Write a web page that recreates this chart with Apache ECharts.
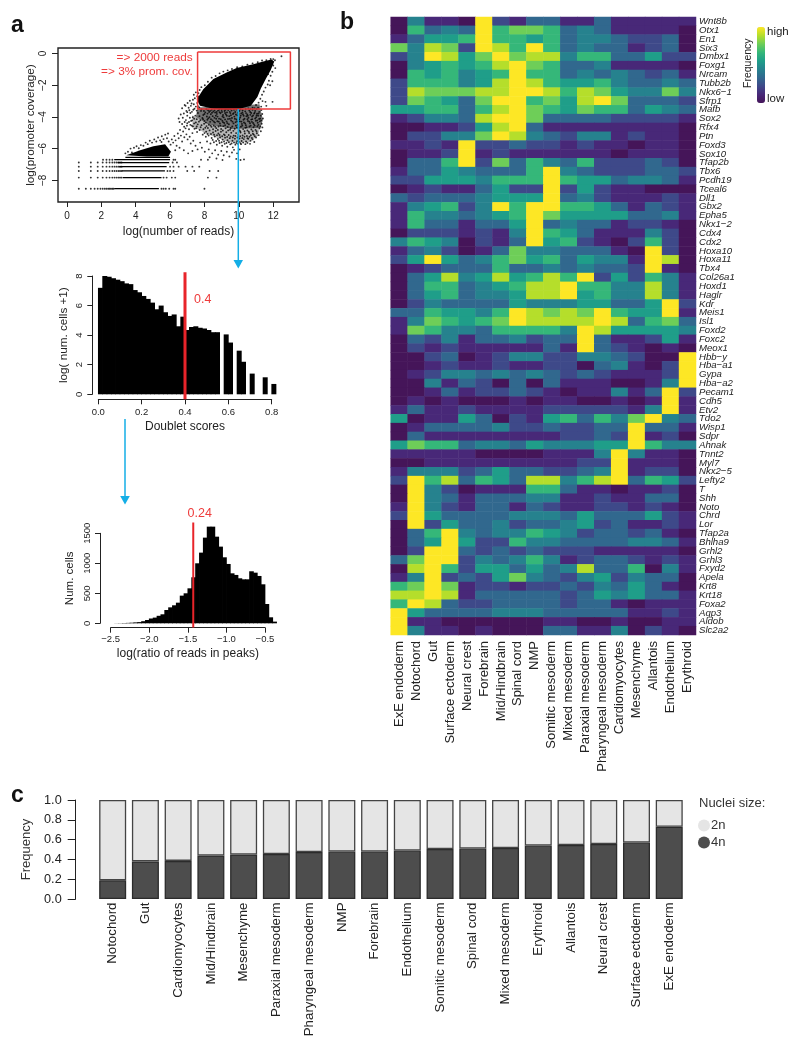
<!DOCTYPE html>
<html><head><meta charset="utf-8">
<style>html,body{margin:0;padding:0;background:#fff}#c{width:800px;height:1050px}</style>
<script src="https://cdn.jsdelivr.net/npm/echarts@6/dist/echarts.min.js"></script>
</head><body><div id="c"></div>
<script>
const FONT='"Liberation Sans",Arial,sans-serif';
// ---------- panel a : scatter ----------
const denseBlob=[[7.55,-2.9],[7.93,-2.26],[8.52,-1.6],[9.29,-1.2],[9.87,-0.92],[10.84,-0.68],[11.42,-0.5],[11.9,-0.38],[12.06,-0.5],[11.85,-1.05],[11.58,-1.58],[11.28,-2.2],[11.08,-2.74],[10.7,-3.3],[10.06,-3.48],[9.29,-3.55],[8.52,-3.48],[7.74,-3.3]];
const midCloud=[[7.6,-3.4],[11.2,-3.2],[11.4,-4.2],[11.25,-4.7],[9.6,-4.75],[8.2,-4.45],[7.5,-4.0]];
const lowCloud=[[7.3,-3.9],[8.2,-4.4],[9.6,-4.7],[11.25,-4.65],[11.1,-5.2],[10.6,-5.6],[9.4,-5.6],[8.2,-5.1],[7.3,-4.6]];
const denseTail=[[3.45,-6.42],[4.26,-6.1],[5.03,-5.85],[5.71,-5.72],[6.05,-6.2],[5.9,-6.5],[4.65,-6.5]];
const rowSegments=[[-8.53,2.75,5.35],[-7.83,3.25,5.5],[-7.41,3.2,5.7],[-7.14,3.05,5.8],[-6.88,2.95,5.95],[-6.7,2.75,6.0],[-6.55,3.4,6.0]];
const rowDotsLow=[0.69,1.1,1.39,1.61,1.79,1.95,2.08,2.2,2.3,2.4,2.48,2.56,2.64,2.71];
const rowDotsMid=[0.69,1.39,1.79,2.08,2.3,2.48,2.64,2.77,2.89,3.0,3.09,3.18];
const rowY=[-7.83,-7.41,-7.14,-6.88];
const sparseRight=[[5.5,-8.53],[5.62,-8.53],[5.75,-8.53],[5.95,-8.53],[6.2,-8.53],[6.3,-8.53],[8.0,-8.53],[5.62,-7.83],[5.8,-7.83],[6.1,-7.83],[6.3,-7.83],[8.2,-7.83],[8.7,-7.83],[5.85,-7.41],[6.0,-7.41],[6.2,-7.41],[7.0,-7.41],[7.4,-7.41],[8.3,-7.41],[8.8,-7.41],[6.0,-7.14],[6.2,-7.14],[6.5,-7.14],[6.9,-7.14],[7.3,-7.14],[7.7,-7.14],[6.15,-6.88],[6.4,-6.88],[6.2,-6.7],[6.3,-6.7],[7.8,-6.7],[8.2,-6.7],[2.1,-6.7],[2.3,-6.7],[2.48,-6.7],[2.64,-6.7]];
const sparseCloud=[
[7.8,-3.62],[8.05,-3.71],[8.21,-3.58],[8.37,-3.83],[8.52,-3.66],[8.66,-3.92],[8.79,-3.6],[8.93,-3.77],[9.08,-3.88],[9.17,-3.63],[9.31,-3.71],[9.44,-3.95],[9.58,-3.6],[9.66,-3.82],[9.79,-3.69],[9.91,-3.9],[10.03,-3.62],[10.14,-3.78],[10.28,-3.93],[10.37,-3.65],[10.49,-3.84],[10.61,-3.59],[10.72,-3.75],[10.83,-3.91],[10.95,-3.62],[11.06,-3.8],[11.19,-3.68],[11.31,-3.57],
[7.62,-3.75],[7.71,-3.95],[7.93,-3.88],[8.14,-3.97],[8.29,-4.02],[8.44,-3.74],[8.58,-4.06],[8.72,-3.81],[8.85,-4.11],[9.02,-3.69],[9.12,-4.03],[9.25,-3.84],[9.37,-4.13],[9.51,-3.76],[9.6,-4.07],[9.74,-3.98],[9.86,-4.16],[9.98,-3.82],[10.08,-4.04],[10.21,-3.71],[10.33,-4.12],[10.44,-3.96],[10.56,-4.05],[10.67,-3.87],[10.78,-4.14],[10.89,-3.79],[11.01,-4.02],[11.12,-3.93],[11.24,-4.1],[11.36,-3.82],
[7.35,-3.55],[7.47,-3.92],[7.55,-4.14],[7.76,-4.21],[7.88,-4.07],[8.0,-4.25],[8.17,-4.18],[8.33,-4.31],[8.47,-4.22],[8.61,-4.36],[8.75,-4.27],[8.9,-4.42],[9.04,-4.24],[9.15,-4.38],[9.29,-4.29],[9.42,-4.46],[9.55,-4.23],[9.69,-4.41],[9.81,-4.33],[9.94,-4.5],[10.06,-4.28],[10.18,-4.44],[10.3,-4.35],[10.41,-4.52],[10.53,-4.26],[10.65,-4.4],[10.76,-4.31],[10.88,-4.47],[10.99,-4.24],[11.1,-4.37],[11.22,-4.28],[11.33,-4.43],
[7.22,-4.25],[7.4,-4.41],[7.61,-4.47],[7.83,-4.52],[7.98,-4.43],[8.12,-4.58],[8.26,-4.49],[8.41,-4.63],[8.54,-4.55],[8.69,-4.71],[8.82,-4.6],[8.97,-4.76],[9.1,-4.58],[9.23,-4.72],[9.35,-4.63],[9.49,-4.81],[9.62,-4.6],[9.76,-4.75],[9.89,-4.66],[10.01,-4.84],[10.12,-4.62],[10.25,-4.77],[10.38,-4.68],[10.5,-4.86],[10.62,-4.6],[10.73,-4.79],[10.85,-4.65],[10.97,-4.82],[11.08,-4.59],[11.2,-4.72],[11.28,-4.9],
[7.51,-4.72],[7.72,-4.83],[7.94,-4.78],[8.1,-4.93],[8.3,-4.85],[8.5,-4.98],[8.65,-4.89],[8.81,-5.05],[8.96,-4.94],[9.13,-5.1],[9.27,-4.97],[9.41,-5.14],[9.56,-5.0],[9.7,-5.18],[9.84,-5.02],[9.97,-5.12],[10.1,-4.98],[10.22,-5.17],[10.35,-5.05],[10.47,-5.2],[10.6,-5.02],[10.7,-5.16],[10.82,-5.06],[10.93,-5.22],[11.05,-5.03],[11.15,-5.15],
[7.9,-5.12],[8.08,-5.25],[8.24,-5.18],[8.42,-5.33],[8.6,-5.24],[8.78,-5.39],[8.91,-5.28],[9.06,-5.43],[9.2,-5.31],[9.34,-5.47],[9.47,-5.34],[9.63,-5.5],[9.77,-5.37],[9.9,-5.54],[10.04,-5.36],[10.16,-5.52],[10.29,-5.4],[10.42,-5.55],[10.55,-5.38],[10.68,-5.51],[10.8,-5.42],[10.9,-5.58],
[7.75,-5.62],[8.15,-5.55],[8.35,-5.68],[8.55,-5.6],[8.72,-5.76],[8.88,-5.65],[9.03,-5.82],[9.18,-5.7],[9.33,-5.88],[9.5,-5.73],[9.65,-5.92],[9.8,-5.75],[9.95,-5.7],[10.1,-5.66],
[7.6,-6.05],[7.85,-5.95],[8.02,-6.2],[8.25,-6.05],[8.45,-6.3],[8.62,-6.1],[8.8,-6.38],[8.98,-6.15],[9.12,-6.42],[9.3,-6.2],[9.45,-6.5],[9.6,-6.25],[9.72,-6.08],[9.9,-6.3],[10.05,-6.05],[8.3,-6.55],[8.7,-6.62],[9.05,-6.72],[9.85,-6.65],[10.1,-6.72],[10.3,-6.68],
[6.7,-3.45],[6.85,-3.25],[6.95,-3.62],[7.02,-3.12],[7.08,-3.42],[7.15,-2.98],[7.21,-3.3],[7.27,-3.68],[7.33,-2.92],[7.38,-3.2],[7.44,-2.82],[7.5,-3.35],[7.58,-3.12],[7.64,-2.72],[7.7,-3.4],[6.62,-3.85],[6.74,-4.05],[6.8,-3.78],[6.92,-4.2],[7.0,-3.92],[7.1,-4.32],[7.18,-3.75],[7.26,-4.55],[7.32,-4.02],[7.42,-4.75],[7.57,-4.95],[7.3,-5.02],[7.1,-4.78],[6.98,-4.55],[6.7,-4.45],[6.55,-4.32],[6.5,-4.1],
[5.92,-5.55],[6.03,-5.75],[6.1,-5.42],[6.18,-5.62],[6.25,-5.2],[6.32,-5.48],[6.38,-5.82],[6.45,-5.05],[6.5,-5.35],[6.58,-4.82],[6.63,-5.18],[6.7,-5.55],[6.76,-4.92],[6.83,-5.28],[6.9,-4.72],[6.95,-5.1],[7.02,-5.42],[7.14,-5.25],[7.2,-5.68],[7.35,-5.5],[7.48,-5.82],[6.55,-5.95],[6.8,-6.1],[6.3,-6.1],[7.05,-6.3],[7.3,-6.15],
[3.55,-6.2],[3.7,-6.0],[3.78,-6.25],[3.9,-5.95],[4.05,-5.85],[4.18,-5.98],[4.3,-5.78],[4.45,-5.82],[4.58,-5.62],[4.7,-5.72],[4.82,-5.5],[4.95,-5.62],[5.08,-5.42],[5.2,-5.55],[5.3,-5.3],[5.42,-5.48],[5.52,-5.22],[5.62,-5.4],[5.72,-5.12],[5.82,-5.35],[5.5,-5.58],[5.88,-5.05],[3.4,-6.3],
[7.65,-2.5],[7.82,-2.12],[8.02,-2.0],[8.2,-1.78],[8.42,-1.52],[8.65,-1.42],[8.88,-1.25],[9.1,-1.14],[9.35,-1.06],[9.6,-0.98],[9.9,-0.86],[10.2,-0.82],[10.5,-0.7],[10.8,-0.62],[11.1,-0.55],[11.35,-0.44],[11.6,-0.42],[11.85,-0.34],[12.0,-0.35],[12.1,-0.42],[12.48,-0.17],
[12.0,-0.75],[12.12,-0.92],[11.95,-1.15],[11.85,-1.4],[11.75,-1.72],[11.68,-1.95],[11.55,-2.15],[11.45,-2.4],[11.35,-2.6],[11.25,-2.85],[11.15,-3.1],[11.0,-3.25],[11.96,-3.05],[11.55,-3.05],[11.38,-3.0],[11.7,-1.3],[11.95,-1.75],[11.82,-2.0],[11.3,-3.35],[10.8,-3.42],[11.6,-3.3]
];
const sparseCloud2=[
[7.83,-3.52],[7.97,-3.63],[8.11,-3.52],[8.27,-3.69],[8.42,-3.55],[8.59,-3.57],[8.71,-3.69],[8.86,-3.54],[9.0,-3.56],[9.22,-3.55],[9.38,-3.57],[9.52,-3.51],[9.72,-3.55],[9.85,-3.53],[9.97,-3.5],[10.1,-3.52],[10.22,-3.58],[10.4,-3.5],[10.55,-3.47],[10.68,-3.5],[10.8,-3.55],[10.91,-3.45],[11.03,-3.5],[11.12,-3.42],
[8.0,-3.82],[8.18,-3.79],[8.33,-3.62],[8.48,-3.95],[8.62,-3.72],[8.76,-3.98],[8.88,-3.7],[9.05,-3.97],[9.2,-3.75],[9.3,-3.93],[9.47,-3.68],[9.54,-3.89],[9.7,-3.76],[9.83,-3.85],[9.95,-3.74],[10.11,-3.92],[10.24,-3.83],[10.42,-3.76],[10.52,-3.93],[10.66,-3.69],[10.77,-3.97],[10.92,-3.73],[11.03,-3.9],[11.15,-3.78],[11.27,-3.92],
[7.68,-4.3],[7.92,-4.15],[8.08,-4.36],[8.22,-4.09],[8.38,-4.15],[8.55,-4.3],[8.68,-4.12],[8.83,-4.3],[8.95,-4.15],[9.08,-4.33],[9.2,-4.16],[9.33,-4.4],[9.48,-4.12],[9.63,-4.3],[9.77,-4.12],[9.9,-4.28],[10.02,-4.15],[10.15,-4.3],[10.27,-4.18],[10.37,-4.42],[10.5,-4.14],[10.61,-4.3],[10.72,-4.17],[10.83,-4.38],[10.95,-4.1],[11.07,-4.22],[11.18,-4.13],[11.3,-4.22],[11.4,-4.1],
[7.55,-4.6],[7.78,-4.65],[8.05,-4.68],[8.2,-4.7],[8.36,-4.55],[8.5,-4.78],[8.63,-4.62],[8.78,-4.82],[8.93,-4.55],[9.07,-4.86],[9.2,-4.52],[9.38,-4.85],[9.53,-4.7],[9.68,-4.88],[9.83,-4.55],[9.98,-4.7],[10.08,-4.9],[10.2,-4.55],[10.33,-4.9],[10.45,-4.65],[10.58,-4.93],[10.69,-4.55],[10.81,-4.9],[10.92,-4.55],[11.03,-4.9],[11.14,-4.5],[11.25,-4.6],[11.37,-4.66],
[8.0,-5.02],[8.18,-5.08],[8.38,-5.08],[8.56,-5.12],[8.73,-5.15],[8.88,-5.14],[9.03,-5.22],[9.18,-5.16],[9.32,-5.26],[9.52,-5.24],[9.65,-5.3],[9.8,-5.2],[9.92,-5.3],[10.08,-5.22],[10.2,-5.33],[10.33,-5.25],[10.5,-5.35],[10.62,-5.25],[10.76,-5.33],[10.87,-5.12],[11.0,-5.3],
[8.48,-5.45],[8.68,-5.52],[8.85,-5.5],[9.0,-5.6],[9.14,-5.55],[9.28,-5.65],[9.42,-5.6],[9.58,-5.68],[9.72,-5.62],[9.85,-5.65],[10.0,-5.58],[10.13,-5.72],[10.25,-5.62],[10.38,-5.72],[10.5,-5.64],[10.65,-5.7],
[6.9,-3.3],[7.0,-3.7],[7.12,-3.58],[7.25,-3.15],[7.42,-3.48],[7.55,-3.6],[7.15,-4.05],[7.28,-4.22],[7.4,-4.12],[7.5,-4.35],[6.85,-4.32],[7.0,-4.4],[7.18,-4.5],[7.33,-4.6],[6.82,-4.62],[7.62,-3.32],[7.38,-2.6],[7.5,-2.45],[7.72,-2.3],[7.58,-2.7]
];
// ---------- panel a : doublet histogram ----------
const doubletEdges=[0,0.02,0.04,0.06,0.08,0.1,0.12,0.14,0.16,0.18,0.2,0.22,0.24,0.26,0.28,0.3,0.32,0.34,0.36,0.38,0.4,0.42,0.44,0.46,0.48,0.5,0.52,0.54,0.56,0.58,0.6,0.62,0.64,0.66,0.68,0.7,0.72,0.74,0.76,0.78,0.8];
const doubletVals=[7.2,8,7.95,7.85,7.75,7.65,7.5,7.45,7.05,6.9,6.65,6.45,6.2,5.75,6,5.55,5.3,5.4,4.6,5.25,4.35,4.55,4.6,4.5,4.45,4.35,4.2,4.2,0,4.05,3.5,0,2.95,2.2,0,1.4,0,0,1.15,0,0.7];
// ---------- panel a : FRiP histogram ----------
const ratioEdges=[-2.45,-2.4,-2.35,-2.3,-2.25,-2.2,-2.15,-2.1,-2.05,-2,-1.95,-1.9,-1.85,-1.8,-1.75,-1.7,-1.65,-1.6,-1.55,-1.5,-1.45,-1.4,-1.35,-1.3,-1.25,-1.2,-1.15,-1.1,-1.05,-1,-0.95,-0.9,-0.85,-0.8,-0.75,-0.7,-0.65,-0.6,-0.55,-0.5,-0.45,-0.4];
const ratioVals=[2,3,5,7,10,15,20,35,55,80,95,125,150,222,266,300,344,461,500,583,767,1000,1178,1428,1611,1611,1444,1278,1100,989,833,806,750,733,733,867,844,789,650,322,100,28];
// ---------- panel b : heatmap ----------
const cellTypes=['ExE endoderm','Notochord','Gut','Surface ectoderm','Neural crest','Forebrain','Mid/Hindbrain','Spinal cord','NMP','Somitic mesoderm','Mixed mesoderm','Paraxial mesoderm','Pharyngeal mesoderm','Cardiomyocytes','Mesenchyme','Allantois','Endothelium','Erythroid'];
const genes=['Wnt8b','Otx1','En1','Six3','Dmbx1','Foxg1','Nrcam','Tubb2b','Nkx6−1','Sfrp1','Mafb','Sox2','Rfx4','Ptn','Foxd3','Sox10','Tfap2b','Tbx6','Pcdh19','Tceal6','Dll1','Gbx2','Epha5','Nkx1−2','Cdx4','Cdx2','Hoxa10','Hoxa11','Tbx4','Col26a1','Hoxd1','Haglr','Kdr','Meis1','Isl1','Foxd2','Foxc2','Meox1','Hbb−y','Hba−a1','Gypa','Hba−a2','Pecam1','Cdh5','Etv2','Tdo2','Wisp1','Sdpr','Ahnak','Tnnt2','Myl7','Nkx2−5','Lefty2','T','Shh','Noto','Chrd','Lor','Tfap2a','Bhlha9','Grhl2','Grhl3','Fxyd2','Apela','Krt8','Krt18','Foxa2','Aqp3','Aldob','Slc2a2'];
const heatRows=[
[0,4,1,1,0,9,2,1,3,3,1,1,3,1,1,1,1,1],
[0,6,3,4,3,9,6,7,7,6,3,4,3,1,1,1,1,0],
[1,3,5,5,6,9,6,6,5,6,3,4,4,3,2,2,3,0],
[7,4,8,7,2,9,8,6,9,6,3,4,3,3,1,2,3,0],
[2,4,9,8,5,7,9,7,8,8,4,6,6,3,3,5,2,2],
[0,4,5,6,5,6,8,9,7,6,3,3,4,1,1,1,1,0],
[0,6,5,6,4,5,6,9,6,6,3,4,3,4,3,2,3,1],
[2,6,6,6,4,5,8,9,8,6,5,5,6,4,3,3,4,3],
[2,8,7,7,7,8,8,9,9,8,6,8,7,5,4,4,7,4],
[2,7,6,5,3,7,9,9,6,7,5,8,9,7,3,3,3,2],
[5,5,6,6,3,6,8,9,7,6,5,7,6,6,3,5,4,3],
[1,2,4,4,3,8,9,9,7,3,3,3,3,2,2,2,2,1],
[0,0,1,1,2,5,8,9,3,1,1,1,1,1,1,1,1,0],
[0,2,2,4,4,7,9,8,4,3,2,4,4,1,2,1,1,0],
[1,1,2,1,9,2,2,3,2,2,1,2,1,1,0,1,1,0],
[0,1,1,2,9,1,2,1,1,1,1,1,1,0,1,1,1,0],
[0,3,3,6,9,2,7,3,6,4,3,6,2,2,2,3,2,0],
[1,3,3,5,4,3,3,3,6,9,4,3,2,2,2,3,3,2],
[2,2,5,5,5,4,6,6,6,9,6,5,5,3,4,4,3,1],
[0,1,2,1,1,3,5,2,2,9,2,5,2,1,1,0,0,0],
[3,2,3,3,3,4,5,5,5,9,3,4,2,1,1,1,2,1],
[1,4,5,6,2,4,9,6,9,9,6,6,5,3,1,3,2,1],
[1,6,4,4,3,4,5,6,9,7,5,5,5,5,3,3,4,1],
[1,6,3,3,1,3,3,5,9,3,4,3,3,1,2,2,1,0],
[0,2,2,2,1,2,1,4,9,6,5,3,1,1,1,4,2,0],
[4,6,5,4,0,2,1,3,9,5,6,2,1,0,2,6,2,0],
[1,3,4,2,0,1,3,7,4,4,3,3,3,1,0,9,2,0],
[2,5,9,5,3,4,6,7,5,6,3,5,4,4,1,9,8,0],
[0,1,2,3,3,3,6,3,3,4,3,4,3,3,2,9,1,0],
[0,3,5,8,4,5,8,5,6,8,6,9,2,5,2,6,4,1],
[0,3,6,6,3,4,5,6,8,8,9,6,6,4,4,8,4,1],
[0,3,5,6,3,4,4,5,8,8,9,5,6,4,4,8,4,1],
[0,2,4,3,3,3,3,5,4,4,4,5,5,3,3,5,9,2],
[3,3,6,5,5,4,6,9,8,7,8,7,9,6,5,5,9,1],
[1,4,7,6,5,6,7,9,8,8,8,8,9,8,3,6,7,3],
[1,7,6,4,4,3,6,6,6,6,4,9,8,5,5,5,5,4],
[0,3,2,4,1,3,3,4,2,3,3,9,3,1,1,2,5,1],
[0,2,1,2,1,1,1,1,1,3,1,9,3,2,1,0,1,0],
[0,0,2,3,0,1,2,4,4,2,2,4,4,3,2,0,0,9],
[0,0,1,2,1,1,2,1,1,2,2,0,3,4,1,0,2,9],
[0,1,2,4,4,3,4,3,4,3,2,3,2,1,1,1,2,9],
[0,0,4,1,3,2,0,3,0,3,1,1,1,0,0,1,4,9],
[0,0,1,3,1,2,2,3,2,1,0,1,1,4,1,3,9,2],
[0,1,0,1,0,0,0,1,0,1,1,0,0,1,0,1,9,1],
[1,3,1,1,2,1,1,1,1,2,2,2,2,2,1,4,9,1],
[5,0,1,1,5,3,0,2,1,5,6,3,6,4,7,9,4,3],
[0,1,3,3,3,3,4,2,2,3,2,2,3,3,9,3,3,1],
[0,3,1,1,1,1,1,1,1,1,2,2,3,2,9,1,2,0],
[5,7,6,6,3,4,4,3,5,4,4,4,5,5,9,6,4,4],
[1,1,1,1,1,0,0,0,0,1,1,1,4,9,4,1,1,0],
[0,0,1,1,1,1,1,1,1,1,1,2,2,9,1,1,1,0],
[1,4,4,4,2,3,5,3,3,2,2,3,4,9,1,2,2,0],
[2,9,6,8,3,6,5,3,8,8,4,6,8,9,3,6,5,2],
[0,9,4,2,0,1,1,1,6,6,3,1,1,0,1,1,2,0],
[0,9,4,3,1,3,3,3,4,4,1,1,2,1,1,3,3,0],
[1,9,4,2,1,3,3,1,3,2,1,1,2,2,1,2,1,0],
[2,9,5,3,3,3,3,4,4,4,3,5,3,3,3,5,2,1],
[0,9,2,5,3,3,4,2,3,3,4,5,2,3,1,1,2,1],
[0,3,6,9,4,3,4,4,6,5,4,2,3,3,2,3,1,0],
[0,3,5,9,5,2,2,6,4,4,3,3,3,3,4,4,3,1],
[0,2,9,9,3,2,3,2,3,2,2,2,1,1,1,1,1,0],
[3,7,9,9,2,4,3,4,6,4,1,2,3,3,2,1,2,1],
[0,8,9,6,2,5,5,3,5,3,4,8,3,3,6,0,4,1],
[1,4,9,2,3,2,5,7,4,3,2,4,5,2,4,3,3,0],
[6,7,9,7,1,2,2,1,2,2,3,2,4,3,5,3,1,0],
[8,8,9,8,1,3,3,3,3,3,2,3,5,4,5,3,3,1],
[6,9,8,3,2,2,3,3,3,3,2,3,3,1,0,1,1,1],
[9,5,3,3,3,3,4,4,4,3,3,3,3,3,1,1,2,1],
[9,1,1,0,0,0,0,0,0,1,1,0,0,1,0,0,1,1],
[9,4,1,1,0,1,0,0,0,3,3,1,1,4,0,2,1,0]
];
// ---------- panel c : nuclei size ----------
const nucleiTypes=['Notochord','Gut','Cardiomyocytes','Mid/Hindbrain','Mesenchyme','Paraxial mesoderm','Pharyngeal mesoderm','NMP','Forebrain','Endothelium','Somitic mesoderm','Spinal cord','Mixed mesoderm','Erythroid','Allantois','Neural crest','Surface ectoderm','ExE endoderm'];
const freq4n=[0.19,0.38,0.385,0.44,0.45,0.455,0.475,0.48,0.48,0.49,0.505,0.51,0.515,0.54,0.545,0.555,0.57,0.73];
const freq2n=freq4n.map(v=>+(1-v).toFixed(3));

const ink='#222';
const minus=v=>String(v).replace('-','−');
const rAxis=(o)=>Object.assign({type:'value',splitLine:{show:false},
  axisLine:{show:true,onZero:false,lineStyle:{color:ink,width:1}},
  axisTick:{show:true,length:5,lineStyle:{color:ink,width:1}},
  axisLabel:{color:ink,fontSize:9.5,fontFamily:FONT},
  nameLocation:'middle',nameTextStyle:{color:ink,fontSize:12,fontFamily:FONT}},o);
const tickLab=(o)=>Object.assign({color:ink,fontSize:9.5,fontFamily:FONT},o);
const redLine=(xi,yi,data,w)=>({type:'line',xAxisIndex:xi,yAxisIndex:yi,data,symbol:'none',clip:false,silent:true,z:5,lineStyle:{color:'#e8242a',width:w}});
const blue='#14aee6';
const txt=(x,y,text,o)=>({type:'text',x,y,silent:true,z:20,style:Object.assign({text,fill:ink,fontFamily:FONT,fontSize:12},o||{})});

const polys=[lowCloud,midCloud,denseBlob,denseTail];
const polyFills=['rgba(0,0,0,0.28)','rgba(0,0,0,0.55)','#000','#000'];
const chart=echarts.init(document.getElementById('c'),null,{renderer:'canvas'});
chart.setOption({
 animation:false,backgroundColor:'#fff',textStyle:{fontFamily:FONT},
 grid:[
  {left:58,top:48,width:241,height:154,show:true,borderColor:ink,borderWidth:1.4,containLabel:false},
  {left:98.3,top:276,width:173.4,height:118.3},
  {left:110.7,top:533.3,width:154.3,height:90},
  {left:390.7,top:17,width:305.3,height:618},
  {left:96.3,top:800,width:589.3,height:99}
 ],
 xAxis:[
  rAxis({gridIndex:0,min:-0.52,max:13.5,name:'log(number of reads)',nameGap:24,axisLine:{show:false,onZero:false},
    axisTick:{show:true,length:5,customValues:[0,2,4,6,8,10,12],lineStyle:{color:ink}},
    axisLabel:tickLab({fontSize:10,margin:9,customValues:[0,2,4,6,8,10,12]})}),
  rAxis({gridIndex:1,min:0,max:0.8,interval:0.2,offset:5,name:'Doublet scores',nameGap:21,
    axisLabel:tickLab({margin:8,formatter:v=>v.toFixed(1)})}),
  rAxis({gridIndex:2,min:-2.5,max:-0.5,interval:0.5,offset:4.4,name:'log(ratio of reads in peaks)',nameGap:20,
    axisLabel:tickLab({margin:6.5,showMinLabel:true,showMaxLabel:true,formatter:v=>minus(v.toFixed(1))})}),
  {type:'category',gridIndex:3,data:cellTypes,axisLine:{show:false},axisTick:{show:false},splitLine:{show:false},
    axisLabel:{interval:0,rotate:90,color:ink,fontSize:13,margin:6,fontFamily:FONT}},
  {type:'category',gridIndex:4,data:nucleiTypes,axisLine:{show:false},axisTick:{show:false},splitLine:{show:false},
    axisLabel:{interval:0,rotate:90,color:ink,fontSize:13.3,margin:3.5,fontFamily:FONT}}
 ],
 yAxis:[
  rAxis({gridIndex:0,min:-9.37,max:0.35,name:'log(promoter coverage)',nameGap:21,axisLine:{show:false,onZero:false},
    nameTextStyle:{color:ink,fontSize:11.7,fontFamily:FONT},
    axisTick:{show:true,length:6,customValues:[0,-2,-4,-6,-8],lineStyle:{color:ink}},
    axisLabel:tickLab({fontSize:10,rotate:90,margin:10,customValues:[0,-2,-4,-6,-8],formatter:minus})}),
  rAxis({gridIndex:1,min:0,max:8,interval:2,offset:6,name:'log( num. cells +1)',nameGap:23,
    nameTextStyle:{color:ink,fontSize:11.7,fontFamily:FONT},
    axisLabel:tickLab({rotate:90,margin:8})}),
  rAxis({gridIndex:2,min:0,max:1500,interval:500,offset:10.7,name:'Num. cells',nameGap:24,
    nameTextStyle:{color:ink,fontSize:11.5,fontFamily:FONT},
    axisLabel:tickLab({rotate:90,margin:8,formatter:v=>String(v)})}),
  {type:'category',gridIndex:3,data:genes,inverse:true,position:'right',axisLine:{show:false},axisTick:{show:false},splitLine:{show:false},
    axisLabel:{interval:0,color:ink,fontSize:9.6,fontStyle:'italic',margin:3,fontFamily:FONT}},
  rAxis({gridIndex:4,min:0,max:1,interval:0.2,offset:20.6,name:'Frequency',nameGap:34,
    axisLine:{show:true,onZero:false,lineStyle:{color:ink,width:1}},axisTick:{show:true,length:8,lineStyle:{color:ink}},
    nameTextStyle:{color:'#333',fontSize:13,fontFamily:FONT},
    axisLabel:tickLab({fontSize:12.7,margin:14,formatter:v=>v.toFixed(1)})})
 ],
 visualMap:[{type:'continuous',seriesIndex:8,min:0,max:9,calculable:false,show:true,orient:'vertical',left:742,top:12,itemWidth:8,itemHeight:76,text:null,showLabel:false,
   inRange:{color:['#451559','#482878','#3e4989','#31688e','#26828e','#1f9e89','#35b779','#6ece58','#b5de2b','#fde725']}}],
 legend:{data:['2n','4n'],orient:'vertical',left:698,top:819,itemWidth:12,itemHeight:12,itemGap:4,icon:'circle',itemStyle:{borderWidth:0},textStyle:{color:'#333',fontSize:13,fontFamily:FONT,padding:[0,0,0,-4]},padding:0,selectedMode:false},
 series:[
  {type:'custom',xAxisIndex:0,yAxisIndex:0,silent:true,clip:true,data:polys.map((p,i)=>[p[0][0],p[0][1],i]),
   renderItem:(params,api)=>({type:'polygon',shape:{points:polys[params.dataIndex].map(p=>api.coord(p))},style:{fill:polyFills[params.dataIndex]}})},
  {type:'custom',xAxisIndex:0,yAxisIndex:0,silent:true,data:rowSegments.map(r=>[r[1],r[0],r[2]]),
   renderItem:(params,api)=>{const a=api.coord([api.value(0),api.value(1)]),b=api.coord([api.value(2),api.value(1)]);
     return {type:'line',shape:{x1:a[0],y1:a[1],x2:b[0],y2:b[1]},style:{stroke:'#000',lineWidth:1.3}};}},
  {type:'scatter',xAxisIndex:0,yAxisIndex:0,silent:true,symbolSize:1.9,itemStyle:{color:'#000'},
   data:[...sparseCloud,...sparseCloud2,...sparseRight,...rowDotsLow.map(x=>[x,-8.53]),...rowY.flatMap(y=>rowDotsMid.map(x=>[x,y]))]},
  {type:'line',xAxisIndex:0,yAxisIndex:0,symbol:'none',silent:true,z:6,clip:false,lineStyle:{color:'#ee3b3b',width:1.5},
   data:[[7.6,0.1],[13,0.1],[13,-3.5],[7.6,-3.5],[7.6,0.1]]},
  {type:'bar',xAxisIndex:1,yAxisIndex:1,clip:false,silent:true,barWidth:5,itemStyle:{color:'#000'},data:doubletEdges.map((e,i)=>[e+0.01,doubletVals[i]])},
  redLine(1,1,[[0.4,-0.34],[0.4,8.25]],3),
  {type:'bar',xAxisIndex:2,yAxisIndex:2,clip:false,silent:true,barWidth:4.6,itemStyle:{color:'#000'},data:ratioEdges.map((e,i)=>[e+0.025,ratioVals[i]])},
  redLine(2,2,[[-1.43,-72],[-1.43,1680]],2),
  {type:'heatmap',xAxisIndex:3,yAxisIndex:3,silent:true,
   data:heatRows.flatMap((r,y)=>r.map((v,x)=>[x,y,v]))},
  {name:'4n',type:'bar',stack:'n',xAxisIndex:4,yAxisIndex:4,silent:true,barWidth:27,data:freq4n,itemStyle:{color:'#4d4d4d',borderColor:'#2b2b2b',borderWidth:1.3}},
  {name:'2n',type:'bar',stack:'n',xAxisIndex:4,yAxisIndex:4,silent:true,barWidth:27,data:freq2n,itemStyle:{color:'#e5e5e5',borderColor:'#444',borderWidth:1.3}}
 ],
 graphic:[
  txt(11,14.5,'a',{fontSize:23,fontWeight:'bold',fill:'#111'}),
  txt(340,11,'b',{fontSize:23,fontWeight:'bold',fill:'#111'}),
  txt(11,784,'c',{fontSize:23,fontWeight:'bold',fill:'#111'}),
  txt(192.7,51.5,'=> 2000 reads',{fill:'#ee3b3b',fontSize:11.8,align:'right'}),
  txt(192.7,66,'=> 3% prom. cov.',{fill:'#ee3b3b',fontSize:11.8,align:'right'}),
  txt(194,293,'0.4',{fill:'#ee3b3b',fontSize:12.5}),
  txt(187.5,507.5,'0.24',{fill:'#ee3b3b',fontSize:12.5}),
  txt(699,797,'Nuclei size:',{fontSize:13,fill:'#333'}),
  txt(767,26,'high',{fontSize:11.5}),
  txt(767,93,'low',{fontSize:11.5}),
  {type:'text',x:743,y:88,rotation:Math.PI/2,silent:true,z:20,style:{text:'Frequency',fontSize:10.5,fontFamily:FONT,fill:ink}},
  {type:'line',z:15,silent:true,shape:{x1:238.3,y1:109,x2:238.3,y2:262},style:{stroke:blue,lineWidth:1.5}},
  {type:'polygon',z:15,silent:true,shape:{points:[[233.5,260],[243,260],[238.3,268.5]]},style:{fill:blue}},
  {type:'line',z:15,silent:true,shape:{x1:125,y1:419,x2:125,y2:498},style:{stroke:blue,lineWidth:1.5}},
  {type:'polygon',z:15,silent:true,shape:{points:[[120.2,496],[129.8,496],[125,504.5]]},style:{fill:blue}}
 ]
});
</script></body></html>
